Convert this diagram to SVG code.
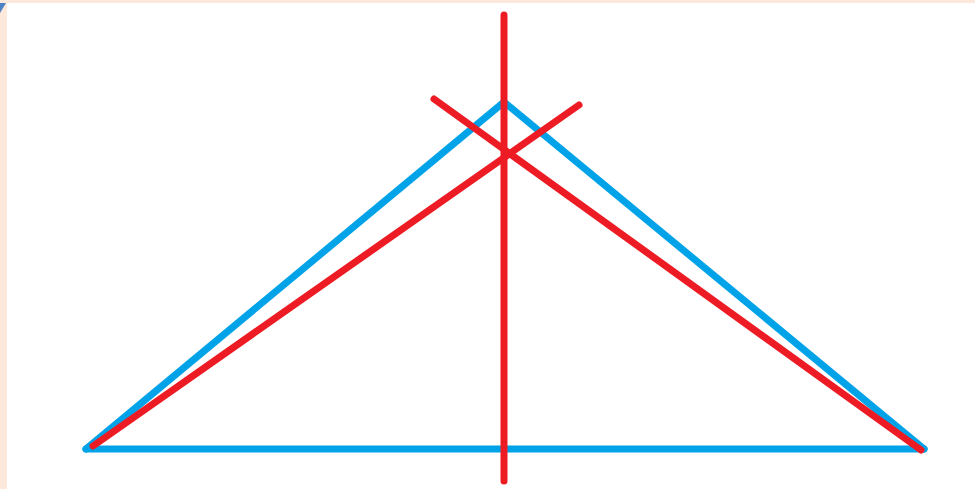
<svg xmlns="http://www.w3.org/2000/svg" width="975" height="489" viewBox="0 0 975 489">
  <style>
    .blue { fill: none; stroke: #00a2e8; stroke-width: 7; stroke-linecap: round; stroke-linejoin: round; }
    .red { fill: none; stroke: #ed1c24; stroke-width: 7; stroke-linecap: round; }
  </style>
  <rect x="0" y="0" width="975" height="489" fill="#ffffff"/>
  <rect x="0" y="0" width="975" height="3" fill="#fde9dc"/>
  <rect x="0" y="0" width="7" height="489" fill="#fde9dc"/>
  <polygon points="0,3 6,3 0,13" fill="#4f81c7"/>
  <g id="triangle">
    <polyline class="blue" points="86,449 504,102 924,449"/>
    <line class="blue" x1="86" y1="449" x2="924" y2="449"/>
  </g>
  <g id="red-lines">
    <line class="red" x1="504" y1="15" x2="504" y2="481"/>
    <line class="red" x1="434" y1="99" x2="921" y2="450"/>
    <line class="red" x1="93" y1="446" x2="579" y2="105"/>
  </g>
</svg>
